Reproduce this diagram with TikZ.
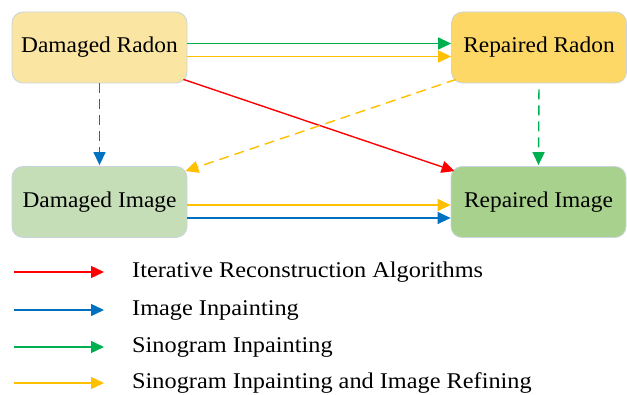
\documentclass[tikz,border=0pt]{standalone}
\usepackage{fontspec}
\setmainfont{Liberation Serif}
\usetikzlibrary{arrows.meta}
\definecolor{radonA}{HTML}{FAE5A2}
\definecolor{radonB}{HTML}{FDD866}
\definecolor{imageA}{HTML}{C6DEB8}
\definecolor{imageB}{HTML}{A9D18E}
\definecolor{rimline}{HTML}{C8D4E0}
\definecolor{cRed}{HTML}{FF0000}
\definecolor{cBlue}{HTML}{0070C0}
\definecolor{cGreen}{HTML}{00B050}
\definecolor{cYellow}{HTML}{FFC000}
\begin{document}
\begin{tikzpicture}[x=1pt,y=-1pt,
		box/.style={draw=rimline,line width=0.8pt,rounded corners=11pt,
			minimum width=175pt,minimum height=71pt,
			font=\fontsize{22.5}{26}\selectfont\addfontfeature{FakeStretch=1.04}},
		flow/.style={line width=1.4pt,-{Triangle[length=13pt,width=12pt]}},
		dashflow/.style={flow,dash pattern=on 10pt off 6pt},
		legtext/.style={anchor=west,inner sep=0pt,
			font=\fontsize{22.5}{26}\selectfont\addfontfeature{FakeStretch=1.08}}]
	\useasboundingbox (0,0) rectangle (627,395);
	% the four stages
	\node[box,fill=radonA](dr) at (99.5,47.5){Damaged Radon};
	\node[box,fill=radonB](rr) at (539,47.5){Repaired Radon};
	\node[box,fill=imageA](di) at (99.5,202){Damaged Image};
	\node[box,fill=imageB](ri) at (538.5,202){Repaired Image};
	% connections
	\draw[flow,cGreen] ([yshift=4pt]dr.east) -- ([yshift=4pt]rr.west);
	\draw[flow,cYellow] ([yshift=-9pt]dr.east) -- ([yshift=-9pt]rr.west);
	\draw[flow,cRed] ([xshift=-4pt,yshift=4pt]dr.south east) -- ([xshift=4pt,yshift=-5pt]ri.north west);
	\draw[dashflow,cYellow] ([xshift=5pt,yshift=4pt]rr.south west) -- ([xshift=-2pt,yshift=-5pt]di.north east);
	\draw[dashflow,cBlue] (dr.south) -- ([yshift=1pt]di.north);
	\draw[dashflow,cGreen,shorten <=6pt] (rr.south) -- ([yshift=1pt]ri.north);
	\draw[flow,cYellow] ([yshift=-3pt]di.east) -- ([yshift=-3pt]ri.west);
	\draw[flow,cBlue] ([yshift=-16pt]di.east) -- ([yshift=-16pt]ri.west);
	% legend
	\node[legtext](t1) at (132,272){Iterative Reconstruction Algorithms};
	\node[legtext](t2) at (132,310){Image Inpainting};
	\node[legtext](t3) at (132,347){Sinogram Inpainting};
	\node[legtext](t4) at (132,383){Sinogram Inpainting and Image Refining};
	\coordinate (s1) at (14,272); \coordinate (e1) at (104,272);
	\coordinate (s2) at (14,310); \coordinate (e2) at (104,310);
	\coordinate (s3) at (14,347); \coordinate (e3) at (104,347);
	\coordinate (s4) at (14,383); \coordinate (e4) at (104,383);
	\draw[flow,cRed] (s1) -- (e1);
	\draw[flow,cBlue] (s2) -- (e2);
	\draw[flow,cGreen] (s3) -- (e3);
	\draw[flow,cYellow] (s4) -- (e4);
\end{tikzpicture}
\end{document}
